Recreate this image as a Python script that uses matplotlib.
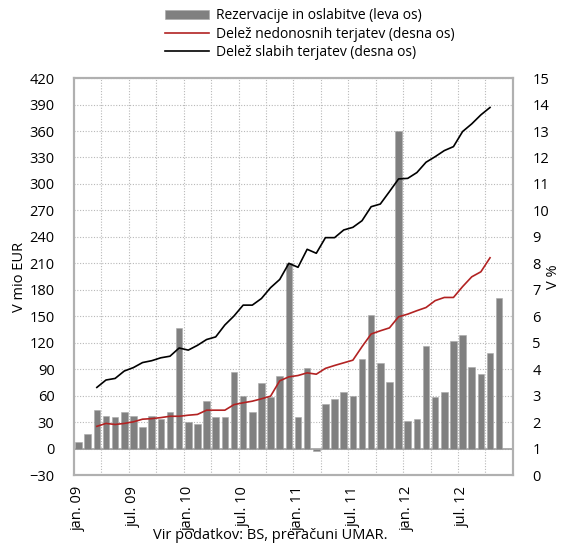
import numpy as np
import matplotlib
matplotlib.use('Agg')
import matplotlib.pyplot as plt

plt.rcParams['font.family'] = ['Open Sans', 'DejaVu Sans']

# monthly, jan.09 - dec.12 (48 categories, last month empty)
months = ['jan. 09', 'jul. 09', 'jan. 10', 'jul. 10', 'jan. 11', 'jul. 11', 'jan. 12', 'jul. 12']
rezervacije = [8, 16, 44, 37, 36, 41, 37, 25, 37, 34, 42, 137,
               30, 28, 54, 36, 36, 87, 60, 41, 74, 59, 82, 210,
               36, 91, -3, 51, 56, 64, 60, 101, 151, 97, 75, 360,
               31, 34, 116, 58, 64, 122, 129, 93, 85, 108, 171]
# lines start in mar.09
nedonosne = [1.84, 1.95, 1.91, 1.95, 2.01, 2.11, 2.13, 2.17, 2.22, 2.22,
             2.26, 2.29, 2.45, 2.45, 2.45, 2.66, 2.73, 2.79, 2.88, 2.98,
             3.56, 3.71, 3.76, 3.86, 3.81, 4.03, 4.14, 4.24, 4.34, 4.85,
             5.33, 5.45, 5.56, 5.98, 6.08, 6.21, 6.33, 6.59, 6.71, 6.71,
             7.12, 7.49, 7.68, 8.21]
slabe = [3.31, 3.59, 3.65, 3.93, 4.06, 4.25, 4.32, 4.43, 4.49, 4.80,
         4.72, 4.90, 5.12, 5.22, 5.67, 6.01, 6.42, 6.42, 6.67, 7.08,
         7.39, 8.00, 7.85, 8.53, 8.38, 8.97, 8.97, 9.26, 9.36, 9.61,
         10.14, 10.24, 10.71, 11.19, 11.21, 11.43, 11.82, 12.03, 12.26, 12.41,
         12.98, 13.27, 13.61, 13.89]

n_cat = 48
xb = np.arange(len(rezervacije))
xl = np.arange(2, 2 + len(slabe))

fig = plt.figure(figsize=(5.63, 5.46), dpi=100)
ax = fig.add_axes([0.1314, 0.130, 0.7796, 0.727])
ax2 = ax.twinx()

grid_c = '#b8b8b8'
for y in range(-30, 421, 30):
    ax.axhline(y, color=grid_c, lw=0.8, ls=(0, (1, 1.5)), zorder=0)
for x in np.arange(2.5, n_cat, 3):
    ax.axvline(x, color=grid_c, lw=0.8, ls=(0, (1, 1.5)), zorder=0)
ax.axhline(0, color='#a0a0a0', lw=1.2, zorder=1)

ax.bar(xb, rezervacije, width=0.72, color='#808080', edgecolor='#a8a8a8',
       linewidth=0.4, zorder=2, label='Rezervacije in oslabitve (leva os)')
ax2.plot(xl, nedonosne, color='#b22222', lw=1.2, label='Delež nedonosnih terjatev (desna os)')
ax2.plot(xl, slabe, color='black', lw=1.2, label='Delež slabih terjatev (desna os)')

ax.set_xlim(-0.5, n_cat - 0.5)
ax.set_ylim(-30, 420)
ax.set_yticks(range(-30, 421, 30))
ax2.set_ylim(0, 15)
ax2.set_yticks(range(0, 16))
ax.set_xticks(range(0, n_cat, 6))
ax.set_xticklabels(months, rotation=90, fontsize=10.5)

for a in (ax, ax2):
    a.tick_params(length=0, labelsize=10.5)
    for s in a.spines.values():
        s.set_color('#b0b0b0')
        s.set_linewidth(1.5)
ax.tick_params(axis='y', pad=14)
ax2.tick_params(axis='y', pad=14)
ax.tick_params(axis='x', pad=8)

ax.set_ylabel('V mio EUR', fontsize=10.5, labelpad=2)
ax2.set_ylabel('V %', fontsize=10.5, labelpad=-2)

h1, l1 = ax.get_legend_handles_labels()
h2, l2 = ax2.get_legend_handles_labels()
fig.legend(h1 + h2, l1 + l2, loc='upper center', bbox_to_anchor=(0.55, 1.0),
           frameon=False, fontsize=10, handlelength=3.2, handletextpad=0.5,
           labelspacing=0.25, borderaxespad=0.2)

fig.text(0.48, 0.005, 'Vir podatkov: BS, preračuni UMAR.', ha='center', va='bottom', fontsize=10.5)

fig.savefig('out.png', dpi=100)
